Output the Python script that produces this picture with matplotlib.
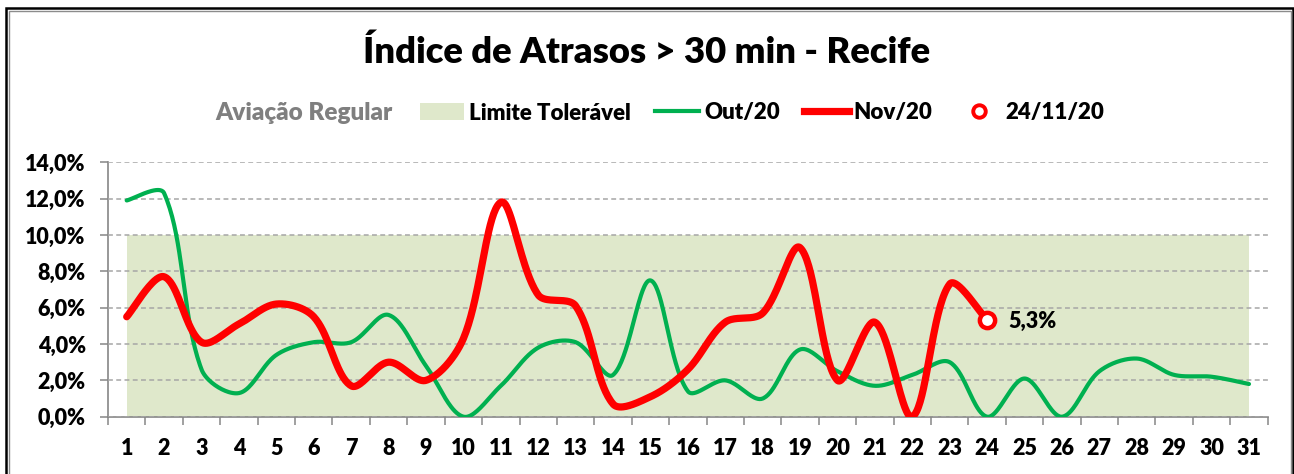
import numpy as np
import matplotlib
matplotlib.use("Agg")
import matplotlib.pyplot as plt
from matplotlib.lines import Line2D
from matplotlib.patches import Patch, Rectangle
from matplotlib.ticker import FuncFormatter, MultipleLocator, FixedLocator

plt.rcParams['font.family'] = ['Lato', 'DejaVu Sans']
plt.rcParams['font.weight'] = 'heavy'
WT = 'heavy'

# ---- data ----
days = list(range(1, 32))
day_labels = [str(d) for d in days]
out20 = [11.9, 12.3, 2.6, 1.3, 3.4, 4.1, 4.1, 5.6, 2.8, 0.0,
         1.7, 3.8, 4.1, 2.3, 7.5, 1.4, 2.0, 1.0, 3.7, 2.5,
         1.7, 2.3, 3.0, 0.0, 2.1, 0.0, 2.5, 3.2, 2.3, 2.2, 1.8]
nov20 = [5.5, 7.7, 4.1, 5.1, 6.2, 5.5, 1.7, 3.0, 2.0, 4.3,
         11.8, 6.7, 6.1, 0.7, 1.1, 2.6, 5.2, 5.7, 9.3, 2.0,
         5.2, 0.0, 7.3, 5.3]
limite = [10.0] * 31
destaque_dia = 24
destaque_label = "24/11/20"


def smooth(ax, x, y, n=40):
    """Excel-like smoothed line: cubic Bezier through the points, tangent split
    in proportion to the neighbouring segment lengths (computed in pixel space)."""
    pts = np.column_stack([np.asarray(x, float), np.asarray(y, float)])
    P = ax.transData.transform(pts)
    m = len(P)
    ctrl_out = np.zeros_like(P)
    ctrl_in = np.zeros_like(P)
    for i in range(m):
        prev = P[i - 1] if i > 0 else P[i]
        nxt = P[i + 1] if i < m - 1 else P[i]
        T = nxt - prev
        d0 = np.hypot(*(P[i] - prev))
        d1 = np.hypot(*(nxt - P[i]))
        tot = d0 + d1 if d0 + d1 > 0 else 1.0
        if i == 0 or i == m - 1:
            ctrl_out[i] = P[i] + T / 6.0
            ctrl_in[i] = P[i] - T / 6.0
        else:
            ctrl_out[i] = P[i] + T * (d1 / tot) / 3.0
            ctrl_in[i] = P[i] - T * (d0 / tot) / 3.0
    t = np.linspace(0, 1, n)[:, None]
    out = []
    for i in range(m - 1):
        p1, c1, c2, p2 = P[i], ctrl_out[i], ctrl_in[i + 1], P[i + 1]
        seg = ((1 - t) ** 3) * p1 + 3 * ((1 - t) ** 2) * t * c1 + 3 * (1 - t) * t ** 2 * c2 + t ** 3 * p2
        out.append(seg if i == 0 else seg[1:])
    out = ax.transData.inverted().transform(np.vstack(out))
    return out[:, 0], out[:, 1]


W, H = 1294, 474
fig = plt.figure(figsize=(W / 100, H / 100), dpi=100)
fig.patch.set_facecolor('white')

ax = fig.add_axes([108 / W, 1 - 416.7 / H, (1267.7 - 108) / W, (416.7 - 162.3) / H])
ax.set_xlim(0.5, 31.5)
ax.set_ylim(0, 14)

green = '#00B050'
red = '#FF0000'
fill_c = '#DFE8CB'

ax.fill_between(days, 0, limite, color=fill_c, lw=0, zorder=1)

gx, gy = smooth(ax, days, out20)
ax.plot(gx, gy, color=green, lw=3.0, solid_capstyle='round', solid_joinstyle='round', zorder=3)
rx, ry = smooth(ax, days[:len(nov20)], nov20)
ax.plot(rx, ry, color=red, lw=5.2, solid_capstyle='round', solid_joinstyle='round', zorder=4)

ax.plot([destaque_dia], [nov20[destaque_dia - 1]], marker='o', ms=11, mfc='white', mec=red, mew=3.2,
        ls='none', zorder=5)
ax.annotate(f"{nov20[destaque_dia - 1]:.1f}%".replace('.', ','),
            xy=(destaque_dia, nov20[destaque_dia - 1]), xytext=(15, -1), textcoords='offset points',
            ha='left', va='center', fontsize=15.5, fontweight=WT, color='black', zorder=6)

ax.set_xlim(0.5, 31.5)
ax.set_ylim(0, 14)
ax.yaxis.set_major_locator(MultipleLocator(2))
ax.yaxis.set_major_formatter(FuncFormatter(lambda v, p: f"{v:.1f}%".replace('.', ',')))
ax.set_xticks(days)
ax.set_xticklabels(day_labels)
ax.xaxis.set_minor_locator(FixedLocator(np.arange(0.5, 32, 1.0)))

ax.grid(axis='y', color='#A6A6A6', lw=1.1, linestyle=(0, (3.2, 2.2)), zorder=2)
ax.set_axisbelow(False)
for s in ['top', 'right']:
    ax.spines[s].set_visible(False)
for s in ['left', 'bottom']:
    ax.spines[s].set_color('#868686')
    ax.spines[s].set_linewidth(1.2)
    ax.spines[s].set_zorder(2.5)

ax.tick_params(axis='y', which='major', length=5.5, width=1.1, color='#868686', pad=10.5,
               labelsize=15.5, labelcolor='black')
ax.tick_params(axis='x', which='major', length=0, pad=15, labelsize=15.5, labelcolor='black')
ax.tick_params(axis='x', which='minor', length=6, width=1.1, color='#868686')
for lab in ax.get_xticklabels() + ax.get_yticklabels():
    lab.set_fontweight(WT)

# title
fig.text(0.5, 1 - 52 / H, "Índice de Atrasos > 30 min - Recife", ha='center', va='center',
         fontsize=26.2, fontweight=WT, color='black')

# legend
fig.text(303.5 / W, 1 - 113 / H, "Aviação Regular", ha='center', va='center', fontsize=17.5,
         fontweight=WT, color='#7F7F7F')
handles = [
    Patch(facecolor=fill_c, edgecolor='none'),
    Line2D([0], [0], color=green, lw=3.0),
    Line2D([0], [0], color=red, lw=5.2),
    Line2D([0], [0], marker='o', ms=9, mfc='white', mec=red, mew=2.8, ls='none'),
]
labels = ["Limite Tolerável", "Out/20", "Nov/20", destaque_label]
fig.legend(handles, labels, loc='center', bbox_to_anchor=(762 / W, 1 - 113 / H), ncol=4,
           frameon=False, handlelength=2.0, handleheight=0.8, handletextpad=0.2,
           columnspacing=1.1, prop={'weight': WT, 'size': 16})

# chart border
fig.add_artist(Rectangle((6 / W, -0.1), (1292.8 - 6) / W, (1 - 8.3 / H) + 0.1, transform=fig.transFigure,
                         fill=False, edgecolor='black', lw=1.8))
fig.add_artist(Rectangle((8.6 / W, -0.1), (1290.8 - 8.6) / W, (1 - 10.8 / H) + 0.1, transform=fig.transFigure,
                         fill=False, edgecolor='#8C8C8C', lw=1.0))

fig.savefig('out.png', dpi=100)
